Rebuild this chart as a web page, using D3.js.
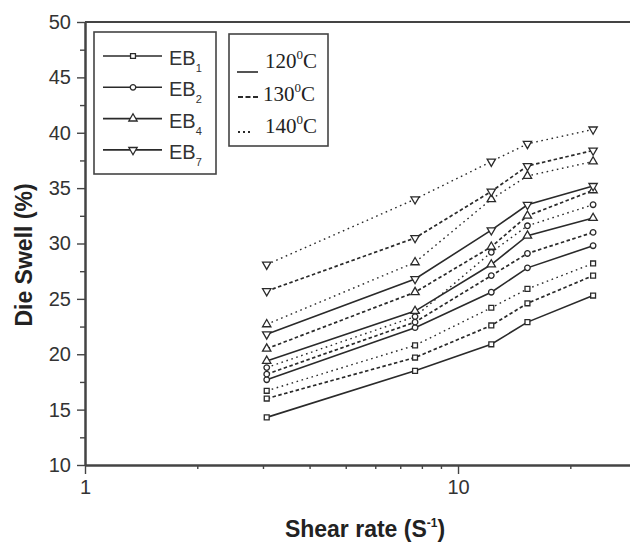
<!DOCTYPE html>
<html>
<head>
<meta charset="utf-8">
<script src="https://cdn.jsdelivr.net/npm/d3@7"></script>
<style>
  body { margin: 0; background: #fff; }
  svg { display: block; }
</style>
</head>
<body>
<div id="chart"></div>
<script>
// Shear rates (1/s) of the five runs
const shearRates = [3.07, 7.67, 12.28, 15.35, 23.02];

// Die swell (%) per blend and temperature
const eb1_120 = [14.3, 18.5, 20.9, 22.9, 25.3];
const eb1_130 = [16.0, 19.7, 22.6, 24.6, 27.1];
const eb1_140 = [16.7, 20.8, 24.2, 25.9, 28.2];
const eb2_120 = [17.7, 22.4, 25.6, 27.8, 29.8];
const eb2_130 = [18.2, 22.9, 27.1, 29.1, 31.0];
const eb2_140 = [18.8, 23.4, 29.2, 31.6, 33.5];
const eb4_120 = [19.4, 23.9, 28.1, 30.7, 32.3];
const eb4_130 = [20.5, 25.6, 29.7, 32.5, 34.8];
const eb4_140 = [22.7, 28.3, 34.0, 36.1, 37.4];
const eb7_120 = [21.8, 26.8, 31.2, 33.5, 35.2];
const eb7_130 = [25.7, 30.5, 34.7, 37.0, 38.4];
const eb7_140 = [28.1, 34.0, 37.4, 39.0, 40.3];

const blends = ['1', '2', '4', '7'];      // EB subscripts
const temps = [120, 130, 140];
const yTicks = [10, 15, 20, 25, 30, 35, 40, 45, 50];
const yMinor = [12.5, 17.5, 22.5, 27.5, 32.5, 37.5, 42.5, 47.5];
const xTicks = [1, 10];
const xMinor = [2, 3, 4, 5, 6, 7, 8, 9, 20];

const series = [
    { blend: '1', temp: 120, values: eb1_120 },
    { blend: '1', temp: 130, values: eb1_130 },
    { blend: '1', temp: 140, values: eb1_140 },
    { blend: '2', temp: 120, values: eb2_120 },
    { blend: '2', temp: 130, values: eb2_130 },
    { blend: '2', temp: 140, values: eb2_140 },
    { blend: '4', temp: 120, values: eb4_120 },
    { blend: '4', temp: 130, values: eb4_130 },
    { blend: '4', temp: 140, values: eb4_140 },
    { blend: '7', temp: 120, values: eb7_120 },
    { blend: '7', temp: 130, values: eb7_130 },
    { blend: '7', temp: 140, values: eb7_140 }
];

const width = 630, height = 546;
const ink = '#2a2a2a';
const sans = 'Liberation Sans, Arial, Helvetica, sans-serif';
const serif = 'Liberation Serif, Times New Roman, serif';

const svg = d3.select('#chart').append('svg')
    .attr('width', width)
    .attr('height', height);

const x = d3.scaleLog().domain([1, 30]).range([85, 636]);
const y = d3.scaleLinear().domain([10, 50]).range([465, 22]);

// Helpers for marker and line style
function markerPath(blend) {
    const types = { '1': [d3.symbolSquare, 24], '2': [d3.symbolCircle, 24],
                    '4': [d3.symbolTriangle, 30], '7': [d3.symbolTriangle, 30] };
    const [type, size] = types[blend];
    return d3.symbol().type(type).size(size)();
}
function markerRotate(blend) {
    return blend === '7' ? ' rotate(180)' : '';
}
function dashFor(temp) {
    return temp === 120 ? null : temp === 130 ? '3.5,2.5' : '1.6,3.6';
}
function widthFor(temp) {
    return temp === 120 ? 1.6 : temp === 130 ? 1.7 : 1.4;
}

// Axes
function styleAxis(g) {
    g.select('.domain').attr('stroke', '#444').attr('stroke-width', 2);
    g.selectAll('.tick line').attr('stroke', '#444').attr('stroke-width', 1.4);
    g.selectAll('text').attr('fill', '#333').style('font-family', sans).style('font-size', '20px');
}

svg.append('g')
    .attr('transform', `translate(${x(1)},0)`)
    .call(d3.axisLeft(y).tickValues(yMinor).tickSize(5).tickSizeOuter(0).tickFormat(''))
    .call(styleAxis);
svg.append('g')
    .attr('transform', `translate(${x(1)},0)`)
    .call(d3.axisLeft(y).tickValues(yTicks).tickSize(8).tickSizeOuter(0).tickPadding(6))
    .call(styleAxis);

svg.append('g')
    .attr('transform', `translate(0,${y(10)})`)
    .call(d3.axisBottom(x).tickValues(xMinor).tickSize(4).tickSizeOuter(0).tickFormat(''))
    .call(styleAxis);
svg.append('g')
    .attr('transform', `translate(0,${y(10)})`)
    .call(d3.axisBottom(x).tickValues(xTicks).tickSize(9).tickSizeOuter(0).tickPadding(6)
        .tickFormat(d3.format('d')))
    .call(styleAxis);

// Top frame line
svg.append('line')
    .attr('x1', x(1)).attr('x2', x(30))
    .attr('y1', y(50)).attr('y2', y(50))
    .attr('stroke', '#444').attr('stroke-width', 2);

// Series lines
const line = d3.line()
    .x((d, i) => x(shearRates[i]))
    .y(d => y(d));

svg.append('g')
    .selectAll('path')
    .data(series)
    .join('path')
    .attr('d', d => line(d.values))
    .attr('fill', 'none')
    .attr('stroke', ink)
    .attr('stroke-width', d => widthFor(d.temp))
    .attr('stroke-dasharray', d => dashFor(d.temp));

// Series markers
svg.append('g')
    .selectAll('g')
    .data(series)
    .join('g')
    .each(function (s) {
        d3.select(this).selectAll('path')
            .data(s.values)
            .join('path')
            .attr('d', markerPath(s.blend))
            .attr('transform', (d, i) => `translate(${x(shearRates[i])},${y(d)})${markerRotate(s.blend)}`)
            .attr('fill', '#fff')
            .attr('stroke', ink)
            .attr('stroke-width', 1.3);
    });

// Axis titles
svg.append('text')
    .attr('transform', 'translate(32,255) rotate(-90)')
    .attr('text-anchor', 'middle')
    .attr('fill', '#222')
    .style('font-family', sans)
    .style('font-size', '23px')
    .style('font-weight', 'bold')
    .text('Die Swell (%)');

const xTitle = svg.append('text')
    .attr('x', 365).attr('y', 537)
    .attr('text-anchor', 'middle')
    .attr('fill', '#222')
    .style('font-family', sans)
    .style('font-size', '23px')
    .style('font-weight', 'bold');
xTitle.append('tspan').text('Shear rate (S');
xTitle.append('tspan').attr('dy', -10).style('font-size', '12px').text('-1');
xTitle.append('tspan').attr('dy', 10).text(')');

// Legend: blends
const leg1 = svg.append('g');
leg1.append('rect')
    .attr('x', 94).attr('y', 32).attr('width', 122).attr('height', 142)
    .attr('fill', 'none').attr('stroke', '#444').attr('stroke-width', 1.6);

blends.forEach((b, i) => {
    const ly = 56 + i * 31.3;
    leg1.append('line')
        .attr('x1', 103).attr('x2', 162).attr('y1', ly).attr('y2', ly)
        .attr('stroke', ink).attr('stroke-width', 1.6);
    leg1.append('path')
        .attr('d', markerPath(b))
        .attr('transform', `translate(133,${ly})${markerRotate(b)}`)
        .attr('fill', '#fff').attr('stroke', ink).attr('stroke-width', 1.3);
    const t = leg1.append('text')
        .attr('x', 169).attr('y', ly + 9)
        .attr('fill', '#333')
        .style('font-family', sans)
        .style('font-size', '20px');
    t.append('tspan').text('EB');
    t.append('tspan').attr('dy', 7).style('font-size', '11px').text(b);
});

// Legend: temperatures
const leg2 = svg.append('g');
leg2.append('rect')
    .attr('x', 229).attr('y', 34).attr('width', 99).attr('height', 112)
    .attr('fill', 'none').attr('stroke', '#444').attr('stroke-width', 1.6);

const tempRows = [
    { base: 68, ly: 72, x1: 237, x2: 258, tx: 265 },
    { base: 101, ly: 97, x1: 238, x2: 260, tx: 263 },
    { base: 133, ly: 132, x1: 238, x2: 251, tx: 265 }
];
temps.forEach((tc, i) => {
    const r = tempRows[i];
    leg2.append('line')
        .attr('x1', r.x1).attr('x2', r.x2).attr('y1', r.ly).attr('y2', r.ly)
        .attr('stroke', ink)
        .attr('stroke-width', tc === 120 ? 1.6 : 2)
        .attr('stroke-dasharray', tc === 120 ? null : tc === 130 ? '5,2.5' : '2,3');
    const t = leg2.append('text')
        .attr('x', r.tx).attr('y', r.base)
        .attr('fill', '#222')
        .style('font-family', serif)
        .style('font-size', '21px');
    t.append('tspan').text(tc);
    t.append('tspan').attr('dy', -9).style('font-size', '13px').text('0');
    t.append('tspan').attr('dy', 9).text('C');
});
</script>
</body>
</html>
